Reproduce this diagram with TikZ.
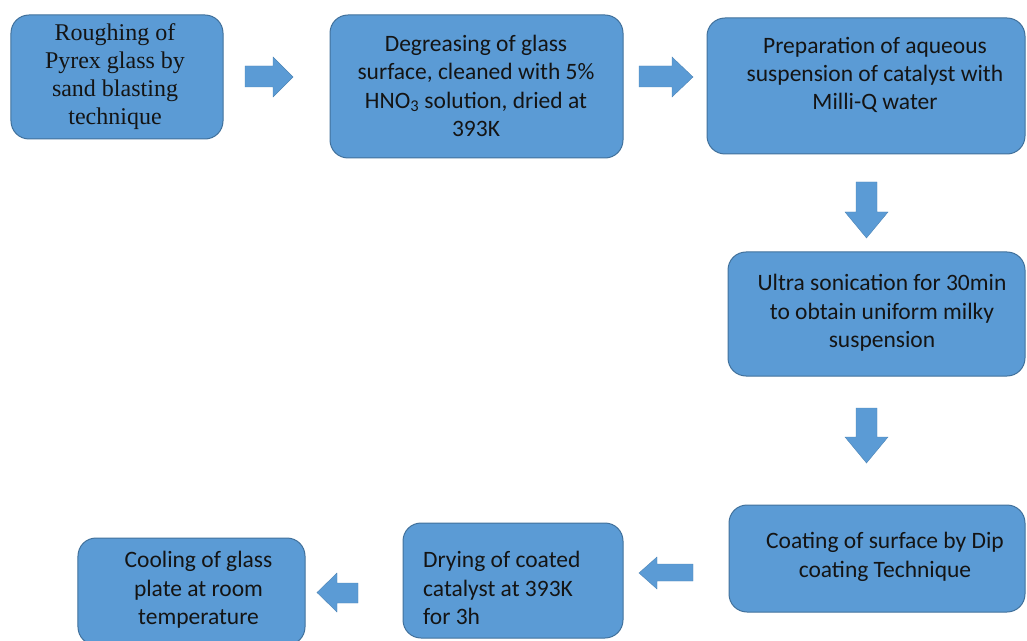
\documentclass[tikz,border=0pt]{standalone}
\usepackage{fontspec}
\setmainfont{Carlito}
\newfontfamily\timesfont{Liberation Serif}
\definecolor{boxfill}{HTML}{5B9BD5}
\definecolor{boxline}{HTML}{41719C}
\definecolor{textcol}{HTML}{141414}
\tikzset{
  box/.style={draw=boxline, fill=boxfill, line width=1bp, rounded corners=18bp, inner sep=0pt},
  txt/.style={align=center, text=textcol, inner sep=0pt, font=\fontsize{23.5bp}{28.3bp}\selectfont},
  serif/.style={align=center, text=textcol, inner sep=0pt, font=\timesfont\fontsize{24bp}{28bp}\selectfont},
  blockarrow/.style={fill=boxfill, draw=boxfill!85!black, line width=0.4bp}
}
\begin{document}
\begin{tikzpicture}[x=1bp, y=-1bp]
\useasboundingbox (0,0) rectangle (1027,641);
% boxes
\node[box, minimum width=212bp, minimum height=124bp] (b1) at (117,77) {};
\node[box, minimum width=293bp, minimum height=143bp] (b2) at (476.5,86.5) {};
\node[box, minimum width=318bp, minimum height=136bp] (b3) at (866,86) {};
\node[box, minimum width=297bp, minimum height=124bp] (b4) at (876.5,314) {};
\node[box, minimum width=296bp, minimum height=107bp] (b5) at (877,558.5) {};
\node[box, minimum width=220bp, minimum height=115bp] (b6) at (513,580.5) {};
\node[box, minimum width=227bp, minimum height=107bp] (b7) at (191.5,591.5) {};
% texts
\node[serif] (t1) at (115,77) {Roughing of\\Pyrex glass by\\sand blasting\\technique};
\node[txt] (t2) at (476,86) {Degreasing of glass\\surface, cleaned with 5\%\\HNO\textsubscript{3} solution, dried at\\393K};
\node[txt] (t3) at (875,75) {Preparation of aqueous\\suspension of catalyst with\\Milli-Q water};
\node[txt] (t4) at (882,313) {Ultra sonication for 30min\\to obtain uniform milky\\suspension};
\node[txt] (t5) at (885,557) {Coating of surface by Dip\\coating Technique};
\node[txt, align=left, anchor=west] (t6) at (423,588) {Drying of coated\\catalyst at 393K\\for 3h};
\node[txt] (t7) at (198.5,590) {Cooling of glass\\plate at room\\temperature};
% block arrows
\draw[blockarrow] (245,66) -- (273,66) -- (273,57) -- (293,77) -- (273,97) -- (273,87) -- (245,87) -- cycle;
\draw[blockarrow] (639,66) -- (672,66) -- (672,57) -- (693,77) -- (672,97) -- (672,87) -- (639,87) -- cycle;
\draw[blockarrow] (856,182) -- (877,182) -- (877,212) -- (888,212) -- (866.5,238) -- (845,212) -- (856,212) -- cycle;
\draw[blockarrow] (856,408) -- (877,408) -- (877,437) -- (888,437) -- (866.5,463) -- (845,437) -- (856,437) -- cycle;
\draw[blockarrow] (693,564) -- (657,564) -- (657,557) -- (639,573) -- (657,589) -- (657,581) -- (693,581) -- cycle;
\draw[blockarrow] (358,583) -- (337,583) -- (337,573) -- (317,592.5) -- (337,612) -- (337,603) -- (358,603) -- cycle;
\end{tikzpicture}
\end{document}
